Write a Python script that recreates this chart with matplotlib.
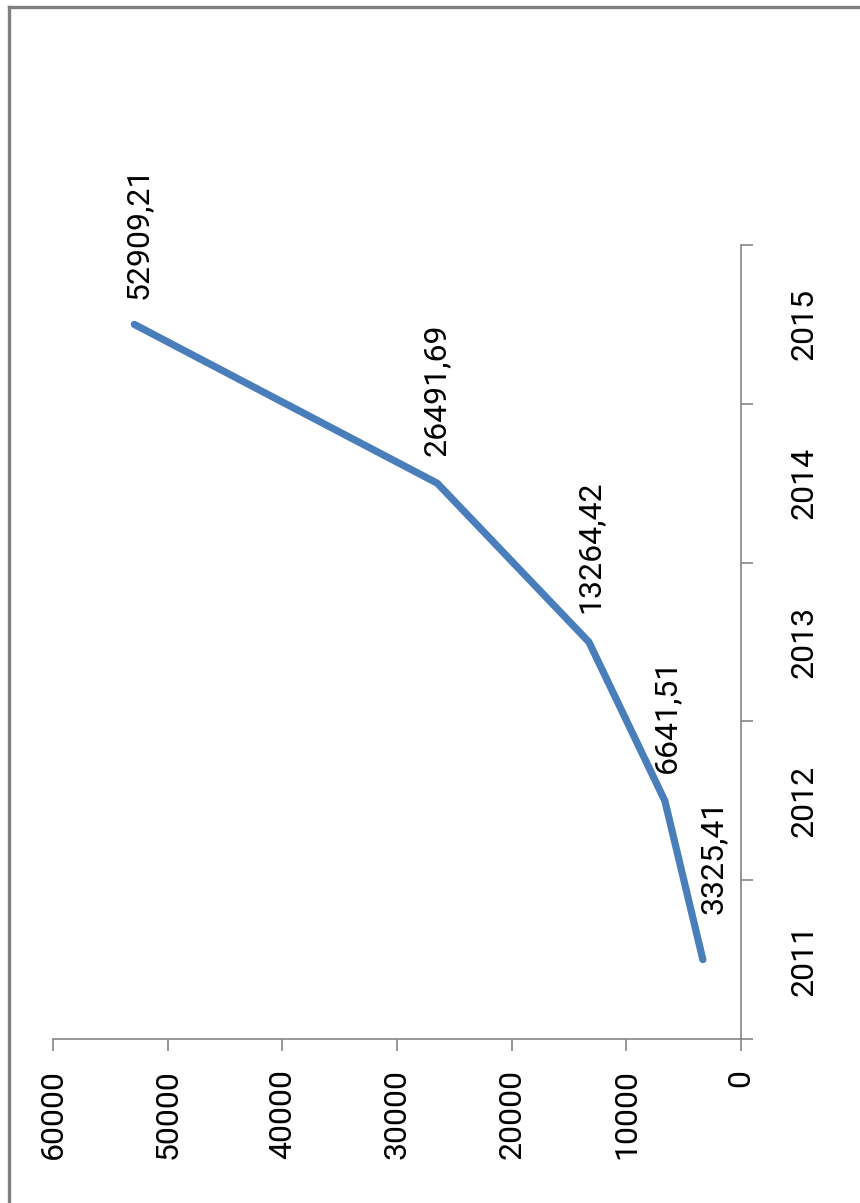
"""Growth curve 2011-2015, drawn turned on its side (values run right to left)."""

import matplotlib

matplotlib.use("Agg")
import matplotlib.pyplot as plt  # noqa: E402
from matplotlib import font_manager  # noqa: E402
from matplotlib.lines import Line2D  # noqa: E402
from matplotlib.ticker import FixedLocator, NullFormatter  # noqa: E402

years = ["2011", "2012", "2013", "2014", "2015"]
values = [3325.41, 6641.51, 13264.42, 26491.69, 52909.21]
value_ticks = [0, 10000, 20000, 30000, 40000, 50000, 60000]

AXIS_GREY = "#868686"
LINE_BLUE = "#4a7ebb"

# prefer a narrow face if one is installed, else Roboto
installed = {f.name for f in font_manager.fontManager.ttflist}
if "Liberation Sans Narrow" in installed:
    FONT, FS = "Liberation Sans Narrow", 26
else:
    FONT, FS = "Roboto", 23
plt.rcParams["font.family"] = [FONT, "DejaVu Sans"]

fig = plt.figure(figsize=(8.6, 12.03), dpi=100)
W, H = 860, 1203
# axes box in pixel terms: left 53, right 741, top 245, bottom 1039
ax = fig.add_axes([53 / W, 1 - 1039 / H, (741 - 53) / W, (1039 - 245) / H])

pos = list(range(len(years)))
ax.plot(values, pos, color=LINE_BLUE, lw=5.2, solid_capstyle="round",
        solid_joinstyle="round", zorder=3)

# data labels sit just above each point, reading bottom to top
label_shift = [(10, 46), (2, 28), (1, 29), (-1, 27), (4, 25)]
for v, p, (dx, dy) in zip(values, pos, label_shift):
    txt = f"{v:.2f}".replace(".", ",")
    ax.annotate(txt, (v, p), xytext=(dx, dy), textcoords="offset pixels",
                rotation=90, ha="center", va="bottom", fontsize=FS,
                color="#000000")

ax.set_xlim(60000, 0)
ax.set_ylim(-0.5, len(years) - 0.5)

for side in ("top", "left"):
    ax.spines[side].set_visible(False)
for side in ("bottom", "right"):
    ax.spines[side].set_color(AXIS_GREY)
    ax.spines[side].set_linewidth(1.2)

ax.set_xticks(value_ticks)
ax.set_xticklabels([str(t) for t in value_ticks], rotation=90, fontsize=FS)
ax.tick_params(axis="x", direction="out", length=8.6, width=1.2,
               color=AXIS_GREY, pad=13)

ax.yaxis.tick_right()
ax.yaxis.set_major_locator(FixedLocator([i - 0.5 for i in range(len(years) + 1)]))
ax.yaxis.set_major_formatter(NullFormatter())
ax.yaxis.set_minor_locator(FixedLocator(pos))
ax.set_yticklabels(years, minor=True, rotation=90, fontsize=FS, va="center")
ax.tick_params(axis="y", which="major", direction="out", length=8.6,
               width=1.2, color=AXIS_GREY, right=True, left=False)
ax.tick_params(axis="y", which="minor", length=0, pad=35, right=True,
               left=False)

# chart frame edges along the left and top
fig.add_artist(Line2D([9 / W, 9 / W], [0, 1 - 7 / H], transform=fig.transFigure,
                      color="#808080", lw=2.4))
fig.add_artist(Line2D([9 / W, 1], [1 - 7 / H, 1 - 7 / H],
                      transform=fig.transFigure, color="#808080", lw=2.4))

fig.savefig("out.png", dpi=100)
